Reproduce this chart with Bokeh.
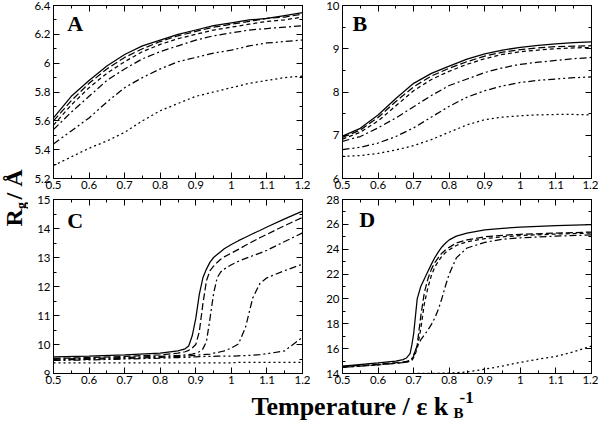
import math
from bokeh.plotting import figure
from bokeh.models import Range1d, FixedTicker, LinearAxis, CustomJSTickFormatter, Label
from bokeh.layouts import row, column
from bokeh.core.properties import value
from bokeh.embed import file_html
from bokeh.resources import INLINE

# ---------------- data ----------------
x_ticks = [0.5, 0.6, 0.7, 0.8, 0.9, 1.0, 1.1, 1.2]
x_minor = [0.55, 0.65, 0.75, 0.85, 0.95, 1.05, 1.15]

A_x = [0.5, 0.55, 0.6, 0.65, 0.7, 0.75, 0.8, 0.85, 0.9, 0.95, 1.0, 1.05, 1.1, 1.15, 1.2]
A_s1 = [5.62, 5.77, 5.88, 5.98, 6.06, 6.12, 6.16, 6.20, 6.23, 6.26, 6.28, 6.30, 6.31, 6.33, 6.35]
A_s2 = [5.60, 5.74, 5.86, 5.96, 6.04, 6.10, 6.15, 6.19, 6.22, 6.25, 6.27, 6.29, 6.31, 6.32, 6.34]
A_s3 = [5.57, 5.71, 5.83, 5.93, 6.01, 6.08, 6.13, 6.17, 6.20, 6.23, 6.25, 6.27, 6.29, 6.30, 6.32]
A_s4 = [5.54, 5.66, 5.77, 5.88, 5.96, 6.03, 6.08, 6.12, 6.16, 6.19, 6.21, 6.23, 6.24, 6.25, 6.26]
A_s5 = [5.44, 5.53, 5.62, 5.73, 5.83, 5.90, 5.96, 6.01, 6.04, 6.07, 6.09, 6.12, 6.14, 6.15, 6.16]
A_s6 = [5.29, 5.35, 5.41, 5.46, 5.52, 5.60, 5.67, 5.72, 5.77, 5.80, 5.83, 5.86, 5.88, 5.90, 5.91]
A_yticks = [5.2, 5.4, 5.6, 5.8, 6.0, 6.2, 6.4]
A_yminor = [5.3, 5.5, 5.7, 5.9, 6.1, 6.3]

B_x = [0.5, 0.55, 0.6, 0.65, 0.7, 0.75, 0.8, 0.85, 0.9, 0.95, 1.0, 1.05, 1.1, 1.15, 1.2]
B_s1 = [6.98, 7.16, 7.47, 7.85, 8.20, 8.43, 8.60, 8.76, 8.88, 8.97, 9.03, 9.08, 9.11, 9.14, 9.16]
B_s2 = [6.95, 7.12, 7.41, 7.78, 8.12, 8.37, 8.55, 8.70, 8.83, 8.92, 8.98, 9.02, 9.05, 9.06, 9.07]
B_s3 = [6.91, 7.07, 7.33, 7.68, 8.03, 8.29, 8.48, 8.64, 8.77, 8.87, 8.93, 8.97, 9.00, 9.02, 9.03]
B_s4 = [6.86, 6.97, 7.17, 7.40, 7.66, 7.92, 8.15, 8.30, 8.45, 8.56, 8.64, 8.69, 8.73, 8.77, 8.80]
B_s5 = [6.67, 6.72, 6.82, 6.97, 7.17, 7.42, 7.67, 7.88, 8.03, 8.14, 8.22, 8.27, 8.30, 8.33, 8.35]
B_s6 = [6.51, 6.53, 6.58, 6.66, 6.76, 6.90, 7.07, 7.24, 7.36, 7.42, 7.45, 7.47, 7.48, 7.48, 7.47]
B_yticks = [6, 7, 8, 9, 10]
B_yminor = [6.5, 7.5, 8.5, 9.5]

C_x = [0.5, 0.6, 0.7, 0.8, 0.85, 0.87, 0.88, 0.89, 0.9, 0.91, 0.92, 0.93, 0.94, 0.95,
       0.96, 0.97, 0.98, 1.0, 1.02, 1.04, 1.06, 1.08, 1.1, 1.15, 1.2]
C_s1 = [9.57, 9.60, 9.64, 9.70, 9.78, 9.85, 9.95, 10.3, 10.9, 11.74, 12.3, 12.6, 12.84, 13.0,
        13.1, 13.2, 13.3, 13.45, 13.58, 13.7, 13.82, 13.93, 14.05, 14.33, 14.6]
C_s2 = [9.52, 9.55, 9.59, 9.64, 9.70, 9.75, 9.80, 9.88, 10.0, 10.45, 11.4, 12.2, 12.55, 12.7,
        12.83, 12.94, 13.02, 13.15, 13.28, 13.42, 13.55, 13.68, 13.8, 14.1, 14.38]
C_s3 = [9.50, 9.52, 9.55, 9.59, 9.62, 9.64, 9.65, 9.67, 9.70, 9.75, 9.85, 10.1, 10.9, 11.75,
        12.3, 12.5, 12.6, 12.75, 12.87, 12.97, 13.06, 13.15, 13.25, 13.55, 13.85]
C_s4 = [9.47, 9.49, 9.52, 9.56, 9.59, 9.60, 9.61, 9.62, 9.63, 9.64, 9.65, 9.66, 9.67, 9.70,
        9.72, 9.75, 9.78, 9.88, 10.02, 10.6, 11.6, 12.1, 12.3, 12.55, 12.77]
C_s5 = [9.45, 9.47, 9.50, 9.53, 9.55, 9.56, 9.56, 9.57, 9.57, 9.58, 9.58, 9.59, 9.59, 9.59,
        9.60, 9.60, 9.60, 9.60, 9.61, 9.62, 9.63, 9.65, 9.68, 9.78, 10.25]
C_s6 = [9.37, 9.37, 9.37, 9.37, 9.37, 9.37, 9.37, 9.37, 9.37, 9.37, 9.37, 9.37, 9.37, 9.37,
        9.37, 9.37, 9.37, 9.37, 9.38, 9.38, 9.38, 9.38, 9.38, 9.38, 9.38]
C_yticks = [9, 10, 11, 12, 13, 14, 15]
C_yminor = [9.5, 10.5, 11.5, 12.5, 13.5, 14.5]

D_x = [0.5, 0.6, 0.65, 0.67, 0.68, 0.69, 0.695, 0.70, 0.705, 0.71, 0.72, 0.73, 0.74, 0.75,
       0.76, 0.77, 0.78, 0.79, 0.8, 0.82, 0.85, 0.9, 0.95, 1.0, 1.1, 1.2]
D_s1 = [14.6, 14.85, 15.0, 15.12, 15.25, 15.6, 16.3, 17.2, 18.6, 20.0, 21.0, 21.6, 22.2, 22.8,
        23.35, 23.8, 24.2, 24.5, 24.75, 25.05, 25.3, 25.55, 25.68, 25.77, 25.9, 25.97]
D_s2 = [14.55, 14.75, 14.87, 14.93, 14.97, 15.05, 15.15, 15.4, 15.8, 16.3, 18.6, 20.5, 21.6, 22.4,
        22.95, 23.35, 23.7, 23.95, 24.15, 24.5, 24.75, 25.0, 25.12, 25.2, 25.3, 25.38]
D_s3 = [14.5, 14.7, 14.82, 14.88, 14.92, 14.98, 15.05, 15.3, 15.6, 16.0, 17.6, 19.6, 20.9, 21.9,
        22.6, 23.05, 23.45, 23.75, 23.95, 24.3, 24.6, 24.85, 25.0, 25.1, 25.22, 25.3]
D_s4 = [14.5, 14.7, 14.82, 14.88, 14.93, 15.0, 15.2, 15.5, 15.85, 16.2, 16.7, 17.1, 17.5, 17.95,
        18.5, 19.2, 20.1, 21.1, 22.0, 23.3, 24.1, 24.55, 24.8, 24.92, 25.05, 25.15]
D_x6 = [0.5, 0.6, 0.7, 0.8, 0.85, 0.9, 0.95, 1.0, 1.05, 1.1, 1.15, 1.2]
D_s6 = [13.95, 13.97, 14.0, 14.03, 14.12, 14.35, 14.6, 14.9, 15.15, 15.38, 15.75, 16.2]
D_yticks = [14, 16, 18, 20, 22, 24, 26, 28]
D_yminor = [15, 17, 19, 21, 23, 25, 27]

DASH = ["solid", "7 3", "4 3", "7 3 2 3", "7 3 2 3 2 3", "2 3"]

TICK_FONT = "Lato"
TICK_SIZE = "11.5px"
SERIF = "Liberation Serif"

fmt_code = "return String(Math.round(tick*100)/100);"


def style_axis(ax, ticks, minor, labels=True):
    ax.ticker = FixedTicker(ticks=ticks, minor_ticks=minor)
    ax.axis_line_color = "black"
    ax.axis_line_width = 1
    ax.major_tick_in = 6
    ax.major_tick_out = 0
    ax.minor_tick_in = 3
    ax.minor_tick_out = 0
    ax.major_tick_line_color = "black"
    ax.minor_tick_line_color = "black"
    if labels:
        ax.formatter = CustomJSTickFormatter(code=fmt_code)
        ax.major_label_text_font = TICK_FONT
        ax.major_label_text_font_size = TICK_SIZE
        ax.major_label_text_color = "black"
    else:
        ax.formatter = CustomJSTickFormatter(code="return '';")
        ax.major_label_text_font_size = "0px"
        ax.major_label_standoff = 0


def panel(lines, ylo, yhi, yt, ym, letter, lx, ly, w, h, bl, br, bt, bb):
    p = figure(width=w, height=h, x_range=Range1d(0.5, 1.2), y_range=Range1d(ylo, yhi),
               output_backend="svg", toolbar_location=None,
               min_border_left=bl, min_border_right=br, min_border_top=bt, min_border_bottom=bb)
    p.grid.visible = False
    p.outline_line_color = "black"
    p.outline_line_width = 1
    p.background_fill_color = "white"
    p.border_fill_color = "white"
    for xs, ys, dash in lines:
        p.line(xs, ys, line_color="black", line_width=1.25, line_dash=dash)
    style_axis(p.xaxis[0], x_ticks, x_minor)
    p.xaxis[0].major_label_standoff = 2
    style_axis(p.yaxis[0], yt, ym)
    p.yaxis[0].major_label_standoff = 3
    top = LinearAxis()
    style_axis(top, x_ticks, x_minor, labels=False)
    p.add_layout(top, "above")
    right = LinearAxis()
    style_axis(right, yt, ym, labels=False)
    p.add_layout(right, "right")
    p.add_layout(Label(x=lx, y=ly, text=letter, text_font=SERIF, text_font_style="bold",
                       text_font_size="22px", text_color="black", text_baseline="alphabetic"))
    return p


LEFT = dict(w=292, bl=25, br=18)
RIGHT = dict(w=278, bl=22, br=7)
TOP = dict(h=193, bt=5, bb=15)
BOT = dict(h=195, bt=6, bb=15)

pA = panel([(A_x, A_s1, DASH[0]), (A_x, A_s2, DASH[1]), (A_x, A_s3, DASH[2]),
            (A_x, A_s4, DASH[3]), (A_x, A_s5, DASH[4]), (A_x, A_s6, DASH[5])],
           5.2, 6.4, A_yticks, A_yminor, "A", 0.539, 6.273, **LEFT, **TOP)
pB = panel([(B_x, B_s1, DASH[0]), (B_x, B_s2, DASH[1]), (B_x, B_s3, DASH[2]),
            (B_x, B_s4, DASH[3]), (B_x, B_s5, DASH[4]), (B_x, B_s6, DASH[5])],
           6, 10, B_yticks, B_yminor, "B", 0.528, 9.58, **RIGHT, **TOP)
pC = panel([(C_x, C_s1, DASH[0]), (C_x, C_s2, DASH[1]), (C_x, C_s3, DASH[3]),
            (C_x, C_s4, DASH[3]), (C_x, C_s5, DASH[4]), (C_x, C_s6, DASH[5])],
           9, 15, C_yticks, C_yminor, "C", 0.539, 14.28, **LEFT, **BOT)
pD = panel([(D_x, D_s1, DASH[0]), (D_x, D_s2, DASH[1]), (D_x, D_s3, DASH[2]),
            (D_x, D_s4, DASH[3]), (D_x6, D_s6, DASH[5])],
           14, 28, D_yticks, D_yminor, "D", 0.547, 26.40, **RIGHT, **BOT)

# ---------------- outer labels ----------------
YL_W, YL_H = 28, 193 + 195
yl = figure(width=YL_W, height=YL_H, x_range=Range1d(0, YL_W), y_range=Range1d(0, YL_H),
            output_backend="svg", toolbar_location=None, min_border=0,
            x_axis_location=None, y_axis_location=None)
yl.grid.visible = False
yl.outline_line_color = None
yl.text(x=[13.5], y=[162], text=["R"], angle=math.pi / 2, text_font=value(SERIF),
        text_font_style="bold", text_font_size="24px", text_color="black",
        text_align="left", text_baseline="alphabetic")
yl.text(x=[21], y=[179.5], text=["g"], angle=math.pi / 2, text_font=value(SERIF),
        text_font_style="bold", text_font_size="14px", text_color="black",
        text_align="left", text_baseline="alphabetic")
yl.text(x=[13.5], y=[189], text=["/ Å"], angle=math.pi / 2, text_font=value(SERIF),
        text_font_style="bold", text_font_size="24px", text_color="black",
        text_align="left", text_baseline="alphabetic")

XL_W, XL_H = YL_W + 292 + 278, 33
xl = figure(width=XL_W, height=XL_H, x_range=Range1d(0, XL_W), y_range=Range1d(0, XL_H),
            output_backend="svg", toolbar_location=None, min_border=0,
            x_axis_location=None, y_axis_location=None)
xl.grid.visible = False
xl.outline_line_color = None
xl.text(x=[251], y=[15.5], text=["Temperature / ε k"], text_font=value(SERIF),
        text_font_style="bold", text_font_size="26px", text_color="black",
        text_align="left", text_baseline="alphabetic")
xl.text(x=[453], y=[8.5], text=["B"], text_font=value(SERIF),
        text_font_style="bold", text_font_size="15px", text_color="black",
        text_align="left", text_baseline="alphabetic")
xl.text(x=[459], y=[24.5], text=["-1"], text_font=value(SERIF),
        text_font_style="bold", text_font_size="17px", text_color="black",
        text_align="left", text_baseline="alphabetic")

layout = column(row(yl, column(row(pA, pB), row(pC, pD))), xl)

open("out.html", "w").write(file_html(layout, INLINE))
